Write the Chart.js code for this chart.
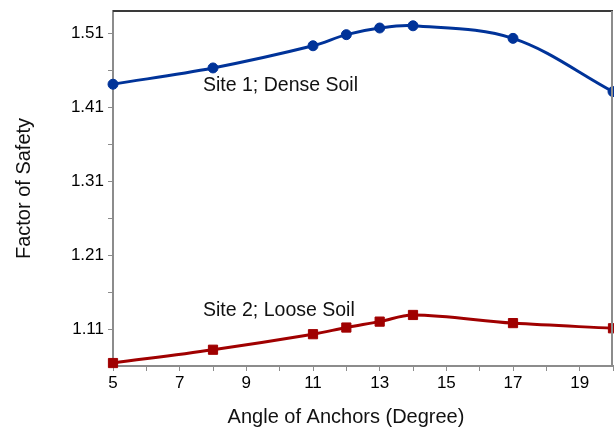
<!DOCTYPE html>
<html lang="en">
<head>
    <meta charset="UTF-8">
    <title>Factor of Safety</title>
    <script src="https://cdn.jsdelivr.net/npm/chart.js"></script>
    <style>
        html, body { margin:0; padding:0; background:#fff; }
        #wrap { width:614px; height:435px; }
    </style>
</head>
<body>
    <div id="wrap"><canvas id="myChart"></canvas></div>

    <script>
        // data
        const angles = [5, 8, 11, 12, 13, 14, 17, 20];
        const site1 = [1.441, 1.463, 1.493, 1.508, 1.517, 1.520, 1.503, 1.431];
        const site2 = [1.064, 1.082, 1.103, 1.112, 1.120, 1.129, 1.118, 1.111];
        const yTicks = [1.11, 1.16, 1.21, 1.26, 1.31, 1.36, 1.41, 1.46, 1.51];
        const yLabels = [1.11, 1.21, 1.31, 1.41, 1.51];
        const xTicks = [5, 6, 7, 8, 9, 10, 11, 12, 13, 14, 15, 16, 17, 18, 19, 20];
        const xLabels = [5, 7, 9, 11, 13, 15, 17, 19];

        // text labels placed in data units
        const notes = [
            { text: 'Site 1; Dense Soil', x: 7.7, y: 1.4395 },
            { text: 'Site 2; Loose Soil', x: 7.7, y: 1.135 }
        ];
        const xTitle = 'Angle of Anchors (Degree)';

        const FONT = '"Liberation Sans", Arial, sans-serif';

        const toPts = (ys) => angles.map((a, i) => ({ x: a, y: ys[i] }));

        // frame, in-plot notes, x axis title (sits a bit left of centre in the original)
        const framePlugin = {
            id: 'frame',
            afterDatasetsDraw(chart) {
                const { ctx, chartArea: a, scales } = chart;
                ctx.save();
                ctx.strokeStyle = '#3a3a3a';
                ctx.lineWidth = 2;
                ctx.beginPath();
                ctx.moveTo(a.left, a.top);
                ctx.lineTo(a.right, a.top);
                ctx.stroke();
                ctx.strokeStyle = '#8c8c8c';
                ctx.beginPath();
                ctx.moveTo(a.right - 1, a.top);
                ctx.lineTo(a.right - 1, a.bottom);
                ctx.stroke();

                ctx.fillStyle = '#111';
                ctx.font = '19.5px ' + FONT;
                ctx.textBaseline = 'middle';
                ctx.textAlign = 'left';
                notes.forEach(n => {
                    ctx.fillText(n.text, scales.x.getPixelForValue(n.x), scales.y.getPixelForValue(n.y));
                });

                ctx.font = '20px ' + FONT;
                ctx.textAlign = 'center';
                ctx.fillText(xTitle, (a.left + a.right) / 2 - 17, a.bottom + 51);
                ctx.restore();
            }
        };

        var ctx = document.querySelector('#myChart').getContext('2d');

        var myChart = new Chart(ctx, {
            type: 'line',
            data: {
                datasets: [{
                    label: 'Site 1; Dense Soil',
                    data: toPts(site1),
                    borderColor: '#003399',
                    backgroundColor: '#003399',
                    borderWidth: 3,
                    pointStyle: 'circle',
                    pointRadius: 5,
                    pointBorderWidth: 1,
                    tension: 0.35,
                    clip: false
                }, {
                    label: 'Site 2; Loose Soil',
                    data: toPts(site2),
                    borderColor: '#a00000',
                    backgroundColor: '#a00000',
                    borderWidth: 3,
                    pointStyle: 'rect',
                    pointRadius: 6.5,
                    pointBorderWidth: 1,
                    tension: 0.35,
                    clip: false
                }]
            },
            options: {
                responsive: true,
                maintainAspectRatio: false,
                animation: false,
                layout: { autoPadding: false, padding: { top: 11, right: 1, left: 0, bottom: 0 } },
                plugins: {
                    legend: { display: false },
                    tooltip: { enabled: false }
                },
                scales: {
                    x: {
                        type: 'linear',
                        min: 5,
                        max: 20,
                        afterBuildTicks: (s) => { s.ticks = xTicks.map(v => ({ value: v })); },
                        afterFit: (s) => { s.height = 69; s.paddingLeft = 0; s.paddingRight = 0; },
                        ticks: {
                            autoSkip: false,
                            maxRotation: 0,
                            color: '#000',
                            font: { size: 17, family: FONT },
                            padding: 2,
                            callback: (v) => xLabels.includes(v) ? String(v) : ''
                        },
                        grid: { drawOnChartArea: false, drawTicks: true, tickLength: 5, color: '#8c8c8c' },
                        border: { color: '#8c8c8c', width: 2 }
                    },
                    y: {
                        min: 1.06,
                        max: 1.54,
                        afterBuildTicks: (s) => { s.ticks = yTicks.map(v => ({ value: v })); },
                        afterFit: (s) => { s.width = 113; s.paddingTop = 0; s.paddingBottom = 0; },
                        ticks: {
                            autoSkip: false,
                            color: '#000',
                            font: { size: 17, family: FONT },
                            padding: 4,
                            callback: (v) => {
                                const r = Math.round(v * 100) / 100;
                                return yLabels.includes(r) ? r.toFixed(2) : '';
                            }
                        },
                        grid: { drawOnChartArea: false, drawTicks: true, tickLength: 5, color: '#8c8c8c' },
                        border: { color: '#8c8c8c', width: 2 },
                        title: {
                            display: true,
                            text: 'Factor of Safety',
                            color: '#111',
                            font: { size: 20, family: FONT },
                            padding: { top: 12, bottom: 0 }
                        }
                    }
                }
            },
            plugins: [framePlugin]
        });
    </script>
</body>
</html>
